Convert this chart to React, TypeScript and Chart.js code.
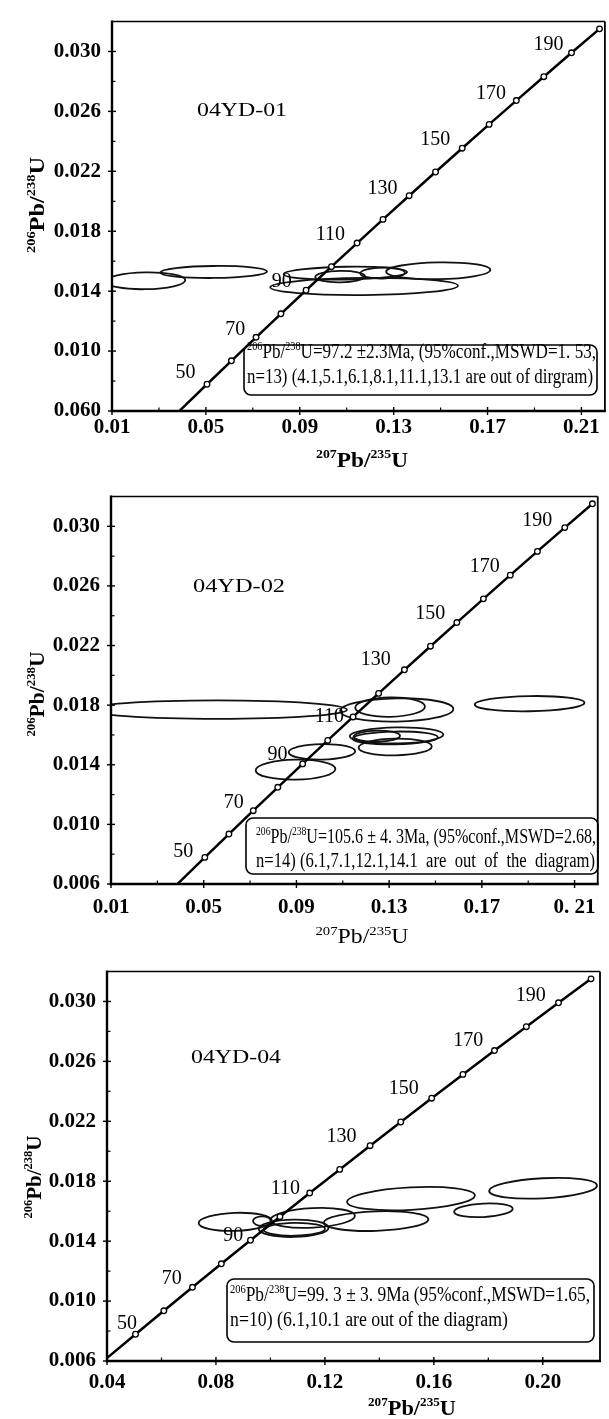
import React, { useEffect, useRef } from 'react';
import { Chart, registerables } from 'chart.js';

Chart.register(...registerables);

const FONT = "'Liberation Serif', 'Times New Roman', Times, serif";

// ---------- Concordia reference points (age Ma, 207Pb/235U, 206Pb/238U) ----------
const concordiaAge = [38, 40, 50, 60, 70, 80, 90, 100, 110, 120, 130, 140, 150, 160, 170, 180, 190, 200];
const concordiaX = [0.03813, 0.04018, 0.05047, 0.06087, 0.07137, 0.08197, 0.09268, 0.1035, 0.11442, 0.12545, 0.13659, 0.14784, 0.1592, 0.17067, 0.18226, 0.19396, 0.20577, 0.21771];
const concordiaY = [0.005912, 0.006224, 0.007786, 0.009351, 0.010918, 0.012487, 0.014059, 0.015633, 0.01721, 0.018789, 0.020371, 0.021955, 0.023542, 0.025131, 0.026722, 0.028316, 0.029912, 0.031511];
const ageLabels = [50, 70, 90, 110, 130, 150, 170, 190];

// ---------- Axis ticks ----------
const yMajor = [0.006, 0.01, 0.014, 0.018, 0.022, 0.026, 0.03];
const yMinor = [0.008, 0.012, 0.016, 0.02, 0.024, 0.028];
const s1YLabels = ['0.060', '0.010', '0.014', '0.018', '0.022', '0.026', '0.030'];
const s23YLabels = ['0.006', '0.010', '0.014', '0.018', '0.022', '0.026', '0.030'];
const s12XMajor = [0.01, 0.05, 0.09, 0.13, 0.17, 0.21];
const s12XMinor = [0.03, 0.07, 0.11, 0.15, 0.19];
const s1XLabels = ['0.01', '0.05', '0.09', '0.13', '0.17', '0.21'];
const s2XLabels = ['0.01', '0.05', '0.09', '0.13', '0.17', '0. 21'];
const s3XMajor = [0.04, 0.08, 0.12, 0.16, 0.2];
const s3XMinor = [0.06, 0.1, 0.14, 0.18];
const s3XLabels = ['0.04', '0.08', '0.12', '0.16', '0.20'];

// ---------- Sample 04YD-01 error ellipses ----------
const s1EllipseX = [0.0242, 0.0533, 0.1174, 0.149, 0.1094, 0.1253, 0.1072];
const s1EllipseY = [0.01469, 0.01528, 0.01431, 0.01536, 0.0152, 0.01521, 0.01497];
const s1EllipseRX = [0.017, 0.0227, 0.04, 0.0222, 0.0263, 0.0095, 0.0106];
const s1EllipseRY = [0.00056, 0.0004, 0.00057, 0.00056, 0.00043, 0.00037, 0.00038];
const s1EllipseTilt = [-1, -0.5, -0.5, -1, -1, -1, -1];

// ---------- Sample 04YD-02 error ellipses ----------
const s2EllipseX = [0.0559, 0.1333, 0.1304, 0.1906, 0.1332, 0.1247, 0.1326, 0.1326, 0.101, 0.0896];
const s2EllipseY = [0.0177, 0.01768, 0.01787, 0.0181, 0.01597, 0.01592, 0.0158, 0.01519, 0.01487, 0.01367];
const s2EllipseRX = [0.0559, 0.0244, 0.01505, 0.02366, 0.0202, 0.01, 0.0184, 0.0158, 0.01434, 0.0172];
const s2EllipseRY = [0.00062, 0.00078, 0.00065, 0.00051, 0.00054, 0.00037, 0.00043, 0.00056, 0.00052, 0.00067];
const s2EllipseTilt = [0, -1, -1, -1, -1, -1, -1, -1, -1, -1];

// ---------- Sample 04YD-04 error ellipses ----------
const s3EllipseX = [0.0871, 0.0969, 0.1085, 0.1088, 0.1155, 0.1388, 0.1516, 0.1782, 0.2001];
const s3EllipseY = [0.01529, 0.01534, 0.01486, 0.01479, 0.01555, 0.01534, 0.01684, 0.01606, 0.01753];
const s3EllipseRX = [0.01346, 0.0033, 0.01284, 0.01125, 0.01553, 0.0192, 0.02349, 0.01077, 0.01982];
const s3EllipseRY = [0.0006, 0.00032, 0.00058, 0.00043, 0.00065, 0.00065, 0.00075, 0.00045, 0.00067];
const s3EllipseTilt = [-2, 0, -1, -1, -3, -2, -3, -3, -3];

// ---------- Texts ----------
type Seg = { t: string; sup?: boolean };
const yTitleSegs: Seg[] = [{ t: '206', sup: true }, { t: 'Pb/' }, { t: '238', sup: true }, { t: 'U' }];
const xTitleSegs: Seg[] = [{ t: '207', sup: true }, { t: 'Pb/' }, { t: '235', sup: true }, { t: 'U' }];
const s1Name = '04YD-01';
const s2Name = '04YD-02';
const s3Name = '04YD-04';
const s1Line1: Seg[] = [{ t: '206', sup: true }, { t: 'Pb/' }, { t: '238', sup: true }, { t: 'U=97.2 ±2.3Ma, (95%conf.,MSWD=1. 53,' }];
const s1Line2: Seg[] = [{ t: 'n=13) (4.1,5.1,6.1,8.1,11.1,13.1 are out of dirgram)' }];
const s2Line1: Seg[] = [{ t: '206', sup: true }, { t: 'Pb/' }, { t: '238', sup: true }, { t: 'U=105.6 ± 4. 3Ma, (95%conf.,MSWD=2.68,' }];
const s2Line2: Seg[] = [{ t: 'n=14) (6.1,7.1,12.1,14.1  are  out  of  the  diagram)' }];
const s3Line1: Seg[] = [{ t: '206', sup: true }, { t: 'Pb/' }, { t: '238', sup: true }, { t: 'U=99. 3 ± 3. 9Ma (95%conf.,MSWD=1.65,' }];
const s3Line2: Seg[] = [{ t: 'n=10) (6.1,10.1 are out of the diagram)' }];

// ---------- Panel styles (page coordinates) ----------
interface Panel {
  canvasTop: number; canvasH: number;
  area: { left: number; right: number; top: number; bottom: number };
  xMin: number; xMax: number; yMin: number; yMax: number;
  xMajor: number[]; xMinor: number[]; xLabels: string[]; yLabels: string[];
  xLabelPad: number; yLabelPad: number;
  xTitle: { cx: number; base: number; width: number; weight: string; size: number; sup: number };
  yTitle: { base: number; cy: number; width: number; weight: string; size: number; sup: number };
  name: { text: string; left: number; cy: number; width: number };
  box: { l: number; r: number; t: number; b: number; tx: number; b1: number; b2: number; w1: number; w2: number };
  line1: Seg[]; line2: Seg[];
  ex: number[]; ey: number[]; erx: number[]; ery: number[]; etilt: number[];
  ageOff: number[][];
}

const panels: Panel[] = [
  {
    canvasTop: 0, canvasH: 475,
    area: { left: 112, right: 605, top: 9, bottom: 411 },
    xMin: 0.01, xMax: 0.22, yMin: 0.006, yMax: 0.032,
    xMajor: s12XMajor, xMinor: s12XMinor, xLabels: s1XLabels, yLabels: s1YLabels,
    xLabelPad: 6, yLabelPad: 11,
    xTitle: { cx: 362, base: 467, width: 92, weight: 'bold', size: 22, sup: 13 },
    yTitle: { base: 44, cy: 205, width: 96, weight: 'bold', size: 22, sup: 13 },
    name: { text: s1Name, left: 197, cy: 111, width: 90 },
    box: { l: 244, r: 597, t: 345, b: 395, tx: 247, b1: 358, b2: 383, w1: 349, w2: 346 },
    line1: s1Line1, line2: s1Line2,
    ex: s1EllipseX, ey: s1EllipseY, erx: s1EllipseRX, ery: s1EllipseRY, etilt: s1EllipseTilt,
    ageOff: [[-11.6, -11], [-10.7, -7.7], [-14.2, -8.1], [-12.2, -8.4], [-11.6, -7.1], [-12, -8], [-10.3, -7.3], [-8.1, -8]],
  },
  {
    canvasTop: 475, canvasH: 475,
    area: { left: 111, right: 600, top: 485, bottom: 884 },
    xMin: 0.01, xMax: 0.22, yMin: 0.006, yMax: 0.032,
    xMajor: s12XMajor, xMinor: s12XMinor, xLabels: s2XLabels, yLabels: s23YLabels,
    xLabelPad: 13, yLabelPad: 11,
    xTitle: { cx: 362, base: 943, width: 93, weight: 'normal', size: 21, sup: 13 },
    yTitle: { base: 44, cy: 694, width: 85, weight: 'bold', size: 22, sup: 13 },
    name: { text: s2Name, left: 193, cy: 587, width: 92 },
    box: { l: 246, r: 598, t: 818, b: 874, tx: 256, b1: 843, b2: 867, w1: 340, w2: 339 },
    line1: s2Line1, line2: s2Line2,
    ex: s2EllipseX, ey: s2EllipseY, erx: s2EllipseRX, ery: s2EllipseRY, etilt: s2EllipseTilt,
    ageOff: [[-11.6, -6], [-9.5, -7.7], [-15.2, -9], [-9, 0], [-13.6, -9.8], [-11.5, -9.1], [-10.5, -8.3], [-12.5, -7.3]],
  },
  {
    canvasTop: 950, canvasH: 469,
    area: { left: 107, right: 600, top: 960, bottom: 1361 },
    xMin: 0.04, xMax: 0.221, yMin: 0.006, yMax: 0.032,
    xMajor: s3XMajor, xMinor: s3XMinor, xLabels: s3XLabels, yLabels: s23YLabels,
    xLabelPad: 11, yLabelPad: 11,
    xTitle: { cx: 412, base: 1415, width: 88, weight: 'bold', size: 22, sup: 13 },
    yTitle: { base: 41, cy: 1177, width: 83, weight: 'bold', size: 22, sup: 13 },
    name: { text: s3Name, left: 191, cy: 1058, width: 90 },
    box: { l: 227, r: 594, t: 1279, b: 1342, tx: 230, b1: 1301, b2: 1326, w1: 360, w2: 278 },
    line1: s3Line1, line2: s3Line2,
    ex: s3EllipseX, ey: s3EllipseY, erx: s3EllipseRX, ery: s3EllipseRY, etilt: s3EllipseTilt,
    ageOff: [[1.4, -10.3], [-10.7, -8.5], [-7.2, -5], [-9.8, -4], [-13.6, -9], [-12.8, -9.4], [-11.2, -10], [-12.8, -7.4]],
  },
];

function drawRich(
  ctx: CanvasRenderingContext2D, segs: Seg[], x: number, y: number,
  o: { size: number; sup: number; weight: string; align: 'left' | 'center'; width?: number; baseline?: CanvasTextBaseline }
) {
  const mainFont = `${o.weight} ${o.size}px ${FONT}`;
  const supFont = `${o.weight} ${o.sup}px ${FONT}`;
  let w = 0;
  const ws = segs.map((s) => {
    ctx.font = s.sup ? supFont : mainFont;
    const m = ctx.measureText(s.t).width;
    w += m;
    return m;
  });
  const sx = o.width ? o.width / w : 1;
  const x0 = o.align === 'center' ? x - (w * sx) / 2 : x;
  ctx.save();
  ctx.translate(x0, y);
  ctx.scale(sx, 1);
  ctx.textAlign = 'left';
  ctx.textBaseline = o.baseline || 'alphabetic';
  ctx.fillStyle = '#000';
  let cx = 0;
  segs.forEach((s, i) => {
    ctx.font = s.sup ? supFont : mainFont;
    ctx.fillText(s.t, cx, s.sup ? -o.size * 0.4 : 0);
    cx += ws[i];
  });
  ctx.restore();
}

function PanelChart({ p }: { p: Panel }) {
  const ref = useRef<HTMLCanvasElement>(null);
  useEffect(() => {
    const canvas = ref.current;
    if (!canvas) return;
    const off = p.canvasTop;
    const a = { left: p.area.left, right: p.area.right, top: p.area.top - off, bottom: p.area.bottom - off };

    const panelPlugin = {
      id: 'panelDecor',
      beforeDatasetsDraw(chart: any) {
        const ctx: CanvasRenderingContext2D = chart.ctx;
        const xs = chart.scales.x;
        const ys = chart.scales.y;
        const ca = chart.chartArea;
        ctx.save();
        ctx.beginPath();
        ctx.rect(ca.left, ca.top, ca.right - ca.left, ca.bottom - ca.top);
        ctx.clip();
        ctx.strokeStyle = '#111';
        ctx.lineWidth = 1.8;
        for (let i = 0; i < p.ex.length; i++) {
          const cx = xs.getPixelForValue(p.ex[i]);
          const cy = ys.getPixelForValue(p.ey[i]);
          const rx = Math.abs(xs.getPixelForValue(p.ex[i] + p.erx[i]) - cx);
          const ry = Math.abs(ys.getPixelForValue(p.ey[i] + p.ery[i]) - cy);
          ctx.beginPath();
          ctx.ellipse(cx, cy, rx, ry, (p.etilt[i] * Math.PI) / 180, 0, Math.PI * 2);
          ctx.stroke();
        }
        ctx.restore();
      },
      afterDraw(chart: any) {
        const ctx: CanvasRenderingContext2D = chart.ctx;
        const xs = chart.scales.x;
        const ys = chart.scales.y;
        const ca = chart.chartArea;
        ctx.save();
        ctx.strokeStyle = '#000';
        ctx.lineCap = 'butt';
        const seg = (x1: number, y1: number, x2: number, y2: number, lw: number) => {
          ctx.lineWidth = lw;
          ctx.beginPath();
          ctx.moveTo(x1, y1);
          ctx.lineTo(x2, y2);
          ctx.stroke();
        };
        // frame
        seg(ca.left, ca.top - 1, ca.left, ca.bottom + 1.3, 2.4);
        seg(ca.left - 1.2, ca.bottom, ca.right + 1, ca.bottom, 2.6);
        seg(ca.left, ca.top, ca.right, ca.top, 1.5);
        seg(ca.right, ca.top, ca.right, ca.bottom, 1.8);
        // ticks
        p.xMajor.forEach((v) => {
          const px = xs.getPixelForValue(v);
          seg(px, ca.bottom - 4, px, ca.bottom + 4, 1.4);
        });
        p.xMinor.forEach((v) => {
          const px = xs.getPixelForValue(v);
          seg(px, ca.bottom - 3.5, px, ca.bottom, 1.2);
        });
        yMajor.forEach((v) => {
          const py = ys.getPixelForValue(v);
          seg(ca.left - 4, py, ca.left + 4, py, 1.4);
        });
        yMinor.forEach((v) => {
          const py = ys.getPixelForValue(v);
          seg(ca.left, py, ca.left + 3.5, py, 1.2);
        });
        // age labels on the concordia
        ctx.fillStyle = '#000';
        ctx.font = `20px ${FONT}`;
        ctx.textAlign = 'right';
        ctx.textBaseline = 'middle';
        ageLabels.forEach((age, i) => {
          const idx = concordiaAge.indexOf(age);
          const px = xs.getPixelForValue(concordiaX[idx]);
          const py = ys.getPixelForValue(concordiaY[idx]);
          ctx.fillText(String(age), px + p.ageOff[i][0], py + p.ageOff[i][1]);
        });
        // sample name
        drawRich(ctx, [{ t: p.name.text }], p.name.left, p.name.cy - off, {
          size: 19, sup: 12, weight: 'normal', align: 'left', width: p.name.width, baseline: 'middle',
        });
        // result box
        ctx.lineWidth = 1.6;
        ctx.beginPath();
        (ctx as any).roundRect(p.box.l, p.box.t - off, p.box.r - p.box.l, p.box.b - p.box.t, 7);
        ctx.stroke();
        drawRich(ctx, p.line1, p.box.tx, p.box.b1 - off, { size: 20, sup: 12, weight: 'normal', align: 'left', width: p.box.w1 });
        drawRich(ctx, p.line2, p.box.tx, p.box.b2 - off, { size: 20, sup: 12, weight: 'normal', align: 'left', width: p.box.w2 });
        // axis titles
        drawRich(ctx, xTitleSegs, p.xTitle.cx, p.xTitle.base - off, {
          size: p.xTitle.size, sup: p.xTitle.sup, weight: p.xTitle.weight, align: 'center', width: p.xTitle.width,
        });
        ctx.save();
        ctx.translate(p.yTitle.base, p.yTitle.cy - off);
        ctx.rotate(-Math.PI / 2);
        drawRich(ctx, yTitleSegs, 0, 0, {
          size: p.yTitle.size, sup: p.yTitle.sup, weight: p.yTitle.weight, align: 'center', width: p.yTitle.width,
        });
        ctx.restore();
        ctx.restore();
      },
    };

    const chart = new Chart(canvas, {
      type: 'scatter',
      data: {
        datasets: [
          {
            data: concordiaX.map((x, i) => ({ x, y: concordiaY[i] })),
            showLine: true,
            borderColor: '#000',
            borderWidth: 2.5,
            tension: 0,
            pointRadius: concordiaAge.map((t) => (t >= 50 ? 2.8 : 0)),
            pointHoverRadius: 0,
            pointBackgroundColor: '#fff',
            pointBorderColor: '#000',
            pointBorderWidth: 1.3,
          } as any,
        ],
      },
      options: {
        animation: false,
        responsive: false,
        events: [],
        layout: { padding: { top: a.top, right: 609 - a.right, left: 0, bottom: 0 } },
        plugins: { legend: { display: false }, tooltip: { enabled: false }, title: { display: false } },
        scales: {
          x: {
            type: 'linear',
            position: 'bottom',
            min: p.xMin,
            max: p.xMax,
            afterBuildTicks: (s: any) => {
              s.ticks = p.xMajor.map((v) => ({ value: v }));
            },
            afterFit: (s: any) => {
              s.height = p.canvasH - a.bottom;
            },
            grid: { display: false, drawTicks: false },
            border: { display: false },
            ticks: {
              autoSkip: false,
              maxRotation: 0,
              minRotation: 0,
              padding: p.xLabelPad,
              color: '#000',
              font: { family: FONT, size: 21, weight: 'bold', lineHeight: 1 },
              callback: (_v: any, i: number) => p.xLabels[i],
            },
          },
          y: {
            type: 'linear',
            position: 'left',
            min: p.yMin,
            max: p.yMax,
            afterBuildTicks: (s: any) => {
              s.ticks = yMajor.map((v) => ({ value: v }));
            },
            afterFit: (s: any) => {
              s.width = a.left;
            },
            grid: { display: false, drawTicks: false },
            border: { display: false },
            ticks: {
              autoSkip: false,
              padding: p.yLabelPad,
              color: '#000',
              font: { family: FONT, size: 21, weight: 'bold', lineHeight: 1 },
              callback: (_v: any, i: number) => p.yLabels[i],
            },
          },
        },
      } as any,
      plugins: [panelPlugin],
    });
    return () => chart.destroy();
  }, [p]);
  return (
    <canvas
      ref={ref}
      width={609}
      height={p.canvasH}
      style={{ position: 'absolute', left: 0, top: p.canvasTop, width: 609, height: p.canvasH }}
    />
  );
}

export default function App() {
  return (
    <div style={{ position: 'absolute', left: 0, top: 0, width: 609, height: 1419, background: '#fff', overflow: 'hidden' }}>
      {panels.map((p, i) => (
        <PanelChart key={i} p={p} />
      ))}
    </div>
  );
}
